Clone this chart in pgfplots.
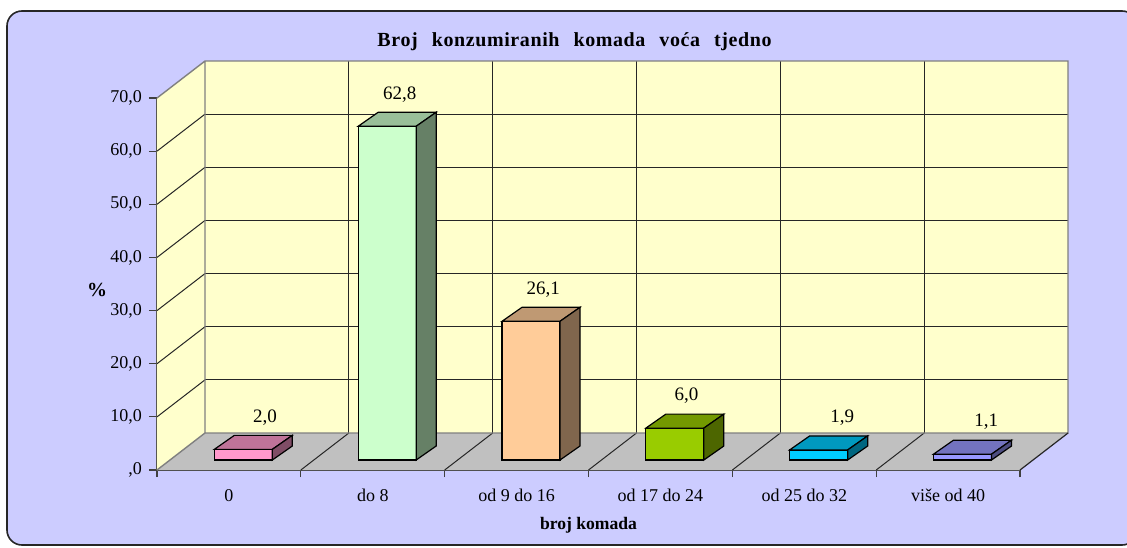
\documentclass[border=0pt]{standalone}
\usepackage{fontspec}
\setmainfont{Liberation Serif}
\usepackage{pgfplots}
\pgfplotsset{compat=1.18}

\definecolor{bgc}{RGB}{204,204,255}
\definecolor{wallc}{RGB}{255,255,204}
\definecolor{floorc}{RGB}{192,192,192}
\definecolor{edgec}{RGB}{128,128,128}
\definecolor{cf0}{HTML}{FF99CC}\definecolor{ct0}{HTML}{BF7399}\definecolor{cs0}{HTML}{804D66}
\definecolor{cf1}{HTML}{CCFFCC}\definecolor{ct1}{HTML}{99BF99}\definecolor{cs1}{HTML}{668066}
\definecolor{cf2}{HTML}{FFCC99}\definecolor{ct2}{HTML}{BF9973}\definecolor{cs2}{HTML}{80664D}
\definecolor{cf3}{HTML}{99CC00}\definecolor{ct3}{HTML}{739900}\definecolor{cs3}{HTML}{4D6600}
\definecolor{cf4}{HTML}{00CCFF}\definecolor{ct4}{HTML}{0099BF}\definecolor{cs4}{HTML}{006680}
\definecolor{cf5}{HTML}{9999FF}\definecolor{ct5}{HTML}{7373BF}\definecolor{cs5}{HTML}{4D4D80}

% A 3-D looking bar drawn as a plot mark at the data point (category, value).
% The bar height is the canvas height of the point above the axis origin
% (the axis origin is placed at the picture origin).
\newdimen\cubeh
\makeatletter
\newcommand\declcube[1]{%
\pgfdeclareplotmark{xlcube#1}{%
  \cubeh=\pgf@pt@y
  \pgfsetlinewidth{0.6pt}%
  \pgfsetstrokecolor{black}%
  \pgfsetmiterjoin
  % front face
  \pgfsetfillcolor{cf#1}%
  \pgfpathmoveto{\pgfqpoint{-7.3pt}{\dimexpr5pt-\cubeh\relax}}%
  \pgfpathlineto{\pgfqpoint{21.7pt}{\dimexpr5pt-\cubeh\relax}}%
  \pgfpathlineto{\pgfqpoint{21.7pt}{5pt}}%
  \pgfpathlineto{\pgfqpoint{-7.3pt}{5pt}}%
  \pgfpathclose
  \pgfusepath{fill,stroke}%
  % top face
  \pgfsetfillcolor{ct#1}%
  \pgfpathmoveto{\pgfqpoint{-7.3pt}{5pt}}%
  \pgfpathlineto{\pgfqpoint{21.7pt}{5pt}}%
  \pgfpathlineto{\pgfqpoint{31.7pt}{12pt}}%
  \pgfpathlineto{\pgfqpoint{2.7pt}{12pt}}%
  \pgfpathclose
  \pgfusepath{fill,stroke}%
  % side face
  \pgfsetfillcolor{cs#1}%
  \pgfpathmoveto{\pgfqpoint{21.7pt}{\dimexpr5pt-\cubeh\relax}}%
  \pgfpathlineto{\pgfqpoint{21.7pt}{5pt}}%
  \pgfpathlineto{\pgfqpoint{31.7pt}{12pt}}%
  \pgfpathlineto{\pgfqpoint{31.7pt}{\dimexpr12pt-\cubeh\relax}}%
  \pgfpathclose
  \pgfusepath{fill,stroke}%
}}
\makeatother
\declcube{0}\declcube{1}\declcube{2}\declcube{3}\declcube{4}\declcube{5}

\pgfplotsset{
  xlbar/.style 2 args={only marks, mark=xlcube#1, nodes near coords,
    nodes near coords style={anchor=center, xshift=#2, yshift=21pt,
      font=\fontsize{9.5}{10}\selectfont, text=black}},
}

\begin{document}
\begin{tikzpicture}
\begin{scope}
\clip (-78.5pt,-38.5pt) rectangle (485pt,235pt);
\draw[fill=bgc, draw=black!85, line width=0.8pt, rounded corners=7.5pt]
  (-75pt,-37.5pt) rectangle (490pt,229.5pt);
\end{scope}
\begin{axis}[
  at={(0,0)}, anchor=origin,
  x=71.92pt, y=2.657pt,
  xmin=0, xmax=6, ymin=0, ymax=70,
  clip=false,
  axis lines*=left,
  axis line style={black!75, line width=0.6pt},
  tick align=outside,
  ytick={0,10,...,70},
  yticklabels={{,0},{10,0},{20,0},{30,0},{40,0},{50,0},{60,0},{70,0}},
  xtick={0.5,1.5,...,5.5},
  xticklabels={0, do 8, od 9 do 16, od 17 do 24, od 25 do 32, više od 40},
  minor xtick={0,...,6},
  major tick length=4pt, minor tick length=3.5pt,
  major x tick style={draw=none},
  minor x tick style={black!75, line width=0.6pt},
  y tick style={black!75, line width=0.6pt},
  tick label style={font=\fontsize{9}{10}\selectfont, text=black},
  xticklabel style={yshift=-2pt},
  /pgf/number format/assume math mode=true,
  /pgf/number format/.cd, use comma, fixed, fixed zerofill, precision=1, /pgfplots/.cd,
  title={\addfontfeature{LetterSpace=3}Broj\hspace{7pt}konzumiranih\hspace{7pt}komada\hspace{7pt}voća\hspace{7pt}tjedno},
  every axis title/.style={at={(axis description cs:0.4838,1.1505)}, anchor=center, font=\bfseries\fontsize{10}{12}\selectfont},
  xlabel={broj komada},
  every axis x label/.style={at={(axis description cs:0.5,-0.148)}, anchor=center, font=\bfseries\fontsize{8.8}{10}\selectfont},
  ylabel={\%},
  every axis y label/.style={at={(axis description cs:-0.0695,0.484)}, anchor=center, font=\bfseries\fontsize{10}{12}\selectfont},
]
% left wall
\fill[wallc] (axis cs:0,0) -- (axis cs:0.3337,6.963) -- (axis cs:0.3337,76.963) -- (axis cs:0,70) -- cycle;
% back wall
\fill[wallc] (axis cs:0.3337,6.963) rectangle (axis cs:6.3337,76.963);
% floor
\fill[floorc] (axis cs:0,0) -- (axis cs:6,0) -- (axis cs:6.3337,6.963) -- (axis cs:0.3337,6.963) -- cycle;
% grid on back wall and left wall
\pgfplotsinvokeforeach{10,20,30,40,50,60}{
  \draw[black!85, line width=0.5pt] (axis cs:0.3337,#1+6.963) -- (axis cs:6.3337,#1+6.963);
  \draw[black!85, line width=0.5pt] (axis cs:0,#1) -- (axis cs:0.3337,#1+6.963);
}
\pgfplotsinvokeforeach{1,2,3,4,5}{
  \draw[black!85, line width=0.5pt] (axis cs:#1+0.3337,6.963) -- (axis cs:#1+0.3337,76.963);
  \draw[black!85, line width=0.5pt] (axis cs:#1,0) -- (axis cs:#1+0.3337,6.963);
}
% edges
\draw[edgec, line width=0.7pt] (axis cs:0,70) -- (axis cs:0.3337,76.963) -- (axis cs:6.3337,76.963) -- (axis cs:6.3337,6.963) -- (axis cs:0.3337,6.963) -- (axis cs:0.3337,76.963);
\draw[edgec, line width=0.7pt] (axis cs:0,0) -- (axis cs:0.3337,6.963);
\draw[black!85, line width=0.6pt] (axis cs:6,0) -- (axis cs:6.3337,6.963);

\addplot[xlbar={0}{18pt}]   coordinates {(0.5,2.0)};
\addplot[xlbar={1}{13.5pt}] coordinates {(1.5,62.8)};
\addplot[xlbar={2}{13.3pt}] coordinates {(2.5,26.1)};
\addplot[xlbar={3}{13pt}]   coordinates {(3.5,6.0)};
\addplot[xlbar={4}{19pt}]   coordinates {(4.5,1.9)};
\addplot[xlbar={5}{19pt}]   coordinates {(5.5,1.1)};
\end{axis}
\pgfresetboundingbox
\path[use as bounding box] (-78.5pt,-38.5pt) rectangle (485pt,235pt);
\end{tikzpicture}
\end{document}
